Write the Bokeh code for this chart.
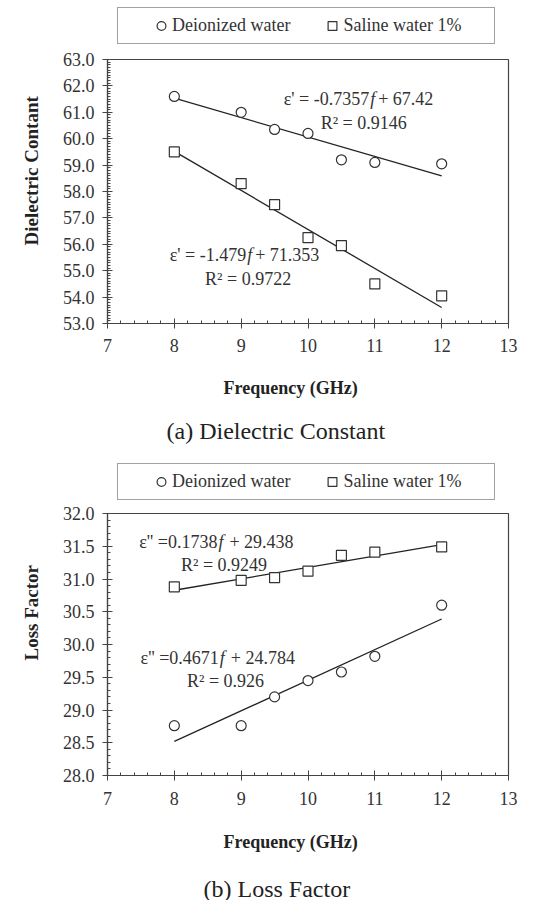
from bokeh.plotting import figure
from bokeh.models import (Legend, LegendItem, Title, SingleIntervalTicker,
                          NumeralTickFormatter, Range1d)
from bokeh.layouts import column
from bokeh.embed import file_html
from bokeh.resources import INLINE
from bokeh.core.properties import value

# ---------------- data ----------------
freq = [8, 9, 9.5, 10, 10.5, 11, 12]
dc_deionized = [61.6, 61.0, 60.35, 60.2, 59.2, 59.1, 59.05]
dc_saline = [59.5, 58.3, 57.5, 56.25, 55.95, 54.5, 54.05]
lf_deionized = [28.76, 28.76, 29.2, 29.45, 29.58, 29.82, 30.6]
lf_saline = [30.88, 30.98, 31.02, 31.12, 31.36, 31.41, 31.49]

# trend lines as printed on the chart: (slope, intercept, R^2)
dc_fit_deionized = (-0.7357, 67.42, 0.9146)
dc_fit_saline = (-1.479, 71.353, 0.9722)
lf_fit_deionized = (0.4671, 24.784, 0.926)
lf_fit_saline = (0.1738, 29.438, 0.9249)
fit_span = [8, 12]

series_names = ["Deionized water", "Saline water 1%"]
x_range_vals = (7, 13)
dc_range_vals = (53, 63)
lf_range_vals = (28, 32)

FONT = "Liberation Serif"
DARK = "#333333"
AXIS = "#444444"
NB = "\u00a0"
W = 540
LEFT = 106
RIGHT = 32


def fit_line(fit):
    return [fit[0] * x + fit[1] for x in fit_span]


def equation(p, prime, eq_sp, fit, fx, fy, rx, ry, gap):
    common = dict(text_font=value(FONT), text_font_size="18px",
                  text_color=DARK, text_baseline="middle")
    sign = "-" if fit[0] < 0 else ""
    before = "\u03b5%s%s=%s%s%s" % (prime, NB, eq_sp, sign, repr(abs(fit[0])))
    after = "+ %s" % repr(fit[1])
    p.text(x=[fx], y=[fy], text=[before], text_align="right", x_offset=-1, **common)
    p.text(x=[fx], y=[fy], text=["f"], text_align="left", x_offset=0,
           text_font_style="italic", **common)
    p.text(x=[fx], y=[fy], text=[after], text_align="left", x_offset=gap, **common)
    p.text(x=[rx], y=[ry], text=["R\u00b2 = %s" % repr(fit[2])],
           text_align="left", **common)


def title(p, text, size, bold, offset, standoff, side):
    p.add_layout(Title(text=text, text_font=FONT, text_font_size=size,
                       text_font_style="bold" if bold else "normal",
                       text_color="#222222", align="left", offset=offset,
                       standoff=standoff), side)


def legend_fig(height, gap, d1, d2):
    lf = figure(width=W, height=height, output_backend="svg",
                toolbar_location=None, x_range=Range1d(0, 1), y_range=Range1d(0, 1),
                x_axis_type=None, y_axis_type=None, min_border_left=LEFT,
                min_border_right=RIGHT, min_border_top=0, min_border_bottom=0,
                outline_line_color=None, background_fill_color="white",
                border_fill_color="white")
    lf.grid.visible = False
    # series glyphs for the legend keys (their points lie outside this strip)
    r1 = lf.scatter(freq, d1, marker="circle", size=10, fill_color="white",
                    line_color=DARK, line_width=1.2)
    r2 = lf.scatter(freq, d2, marker="square", size=10, fill_color="white",
                    line_color=DARK, line_width=1.2)
    spacer = lf.line([], [], line_alpha=0)
    pad = NB * 6
    legend = Legend(items=[LegendItem(label=value(""), renderers=[spacer]),
                           LegendItem(label=value(series_names[0] + pad), renderers=[r1]),
                           LegendItem(label=value(series_names[1] + pad), renderers=[r2])],
                    location=(10, gap), orientation="horizontal",
                    padding=6, spacing=4, margin=0, glyph_width=22,
                    glyph_height=23, label_width=0, label_height=23,
                    label_standoff=0, border_line_color=AXIS,
                    border_line_width=1.2, background_fill_color="white",
                    background_fill_alpha=1,
                    label_text_font=FONT, label_text_font_size="18px",
                    label_text_color=DARK)
    lf.add_layout(legend)
    return lf


def make_fig(height, bottom, yr, yint, yminor, d1, d2, fit1, fit2, xstand):
    p = figure(width=W, height=height, output_backend="svg",
               toolbar_location=None, x_range=Range1d(*x_range_vals),
               y_range=Range1d(*yr), min_border_left=LEFT, min_border_right=RIGHT,
               min_border_top=10, min_border_bottom=bottom,
               background_fill_color="white", border_fill_color="white")
    p.grid.visible = False
    p.outline_line_color = AXIS
    p.outline_line_width = 1.2

    p.xaxis.ticker = SingleIntervalTicker(interval=1, num_minor_ticks=5)
    p.yaxis.ticker = SingleIntervalTicker(interval=yint, num_minor_ticks=yminor)
    p.yaxis.formatter = NumeralTickFormatter(format="0.0")
    for ax in (p.xaxis[0], p.yaxis[0]):
        ax.axis_line_color = AXIS
        ax.axis_line_width = 1.2
        ax.major_tick_line_color = AXIS
        ax.minor_tick_line_color = AXIS
        ax.major_tick_in = 5
        ax.major_tick_out = 5
        ax.minor_tick_in = 3
        ax.minor_tick_out = 0
        ax.major_label_text_font = FONT
        ax.major_label_text_font_size = "18px"
        ax.major_label_text_color = DARK
    p.xaxis.major_label_standoff = xstand
    p.yaxis.major_label_standoff = 8

    p.line(fit_span, fit_line(fit1), line_color="#222222", line_width=1.3)
    p.line(fit_span, fit_line(fit2), line_color="#222222", line_width=1.3)
    p.scatter(freq, d1, marker="circle", size=10, fill_color="white",
              line_color=DARK, line_width=1.2)
    p.scatter(freq, d2, marker="square", size=10, fill_color="white",
              line_color=DARK, line_width=1.2)
    return p


# ---------------- (a) Dielectric constant ----------------
l1 = legend_fig(49, 5, dc_deionized, dc_saline)
p1 = make_fig(396, 122, dc_range_vals, 1, 10, dc_deionized, dc_saline,
              dc_fit_deionized, dc_fit_saline, 10)
equation(p1, "'", " ", dc_fit_deionized, 10.93, 61.52, 10.19, 60.58, 8)
equation(p1, "'", " ", dc_fit_saline, 9.09, 55.58, 8.46, 54.7, 8)
title(p1, "Dielectric Contant", "19px", True, 78, 36, "left")
title(p1, "Frequency (GHz)", "18px", True, 116, 42, "below")
title(p1, "(a) Dielectric Constant", "24px", False, 59, -5, "below")

# ---------------- (b) Loss factor ----------------
l2 = legend_fig(58, 3, lf_deionized, lf_saline)
p2 = make_fig(397, 122, lf_range_vals, 0.5, 5, lf_deionized, lf_saline,
              lf_fit_deionized, lf_fit_saline, 11)
equation(p2, "''", "", lf_fit_saline, 8.66, 31.56, 8.10, 31.21, 11)
equation(p2, "''", "", lf_fit_deionized, 8.68, 29.80, 8.19, 29.45, 11)
title(p2, "Loss Factor", "19px", True, 115, 36, "left")
title(p2, "Frequency (GHz)", "18px", True, 116, 45, "below")
title(p2, "(b) Loss Factor", "24px", False, 96, -2, "below")

layout = column(l1, p1, l2, p2, spacing=0)
open("out.html", "w").write(file_html(layout, INLINE))
